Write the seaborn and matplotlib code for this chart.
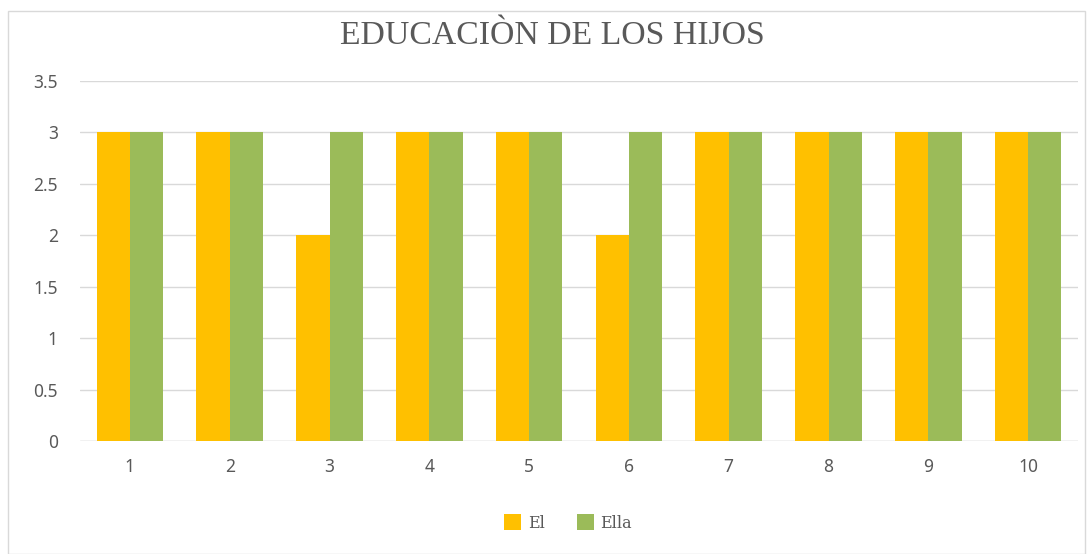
import matplotlib
matplotlib.use("Agg")
import matplotlib.pyplot as plt
import seaborn as sns
import pandas as pd
from matplotlib.patches import Rectangle

categories = ["1", "2", "3", "4", "5", "6", "7", "8", "9", "10"]
el_values = [3, 3, 2, 3, 3, 2, 3, 3, 3, 3]
ella_values = [3, 3, 3, 3, 3, 3, 3, 3, 3, 3]
series_names = ["El", "Ella"]
colors = ["#FFC000", "#9BBB59"]
yticks = [0, 0.5, 1, 1.5, 2, 2.5, 3, 3.5]
ytick_labels = ["0", "0.5", "1", "1.5", "2", "2.5", "3", "3.5"]

df = pd.DataFrame({
    "cat": categories * 2,
    "val": el_values + ella_values,
    "serie": [series_names[0]] * len(categories) + [series_names[1]] * len(categories),
})

sns.set_theme(style="white")
fig = plt.figure(figsize=(10.9, 5.54), dpi=100)
ax = fig.add_axes([80/1090, 1 - 441/554, 998/1090, 360/554])

sns.barplot(data=df, x="cat", y="val", hue="serie", order=categories,
            hue_order=series_names, palette=colors, width=0.667, gap=0,
            saturation=1, ax=ax, legend=True, linewidth=0)

ax.set_xlim(-0.5, 9.5)
ax.set_ylim(0, 3.5)
ax.set_yticks(yticks)
ax.set_yticklabels(ytick_labels)
ax.yaxis.grid(True, color="#D9D9D9", linewidth=1)
ax.set_axisbelow(True)
for s in ax.spines.values():
    s.set_visible(False)
ax.axhline(0, color="#D9D9D9", linewidth=1, zorder=0.5)
ax.set_xlabel("")
ax.set_ylabel("")
ax.tick_params(axis="both", length=0, labelsize=12.5, colors="#595959")
for t in ax.get_xticklabels() + ax.get_yticklabels():
    t.set_fontfamily("Noto Sans")
ax.tick_params(axis="y", pad=16)
ax.tick_params(axis="x", pad=12)

fig.text(552/1090, 1 - 36/554, "EDUCACIÒN DE LOS HIJOS", ha="center", va="center",
         fontsize=24.3, color="#595959", fontfamily="Liberation Serif")

ax.legend_.remove()
handles, labels = ax.get_legend_handles_labels()
leg = fig.legend(handles, labels, loc="center", bbox_to_anchor=(568/1090, 1 - 523/554),
                 ncol=2, frameon=False, handlelength=1.1, handleheight=1.1,
                 columnspacing=2.0, handletextpad=0.4,
                 prop={"family": "DejaVu Serif", "size": 11.5})
for t in leg.get_texts():
    t.set_color("#595959")

fig.patches.append(Rectangle((8/1090, 0), 1 - 13/1090, 1 - 11/554, transform=fig.transFigure,
                             fill=False, edgecolor="#D9D9D9", linewidth=1))

fig.savefig("out.png", dpi=100, facecolor="white")
